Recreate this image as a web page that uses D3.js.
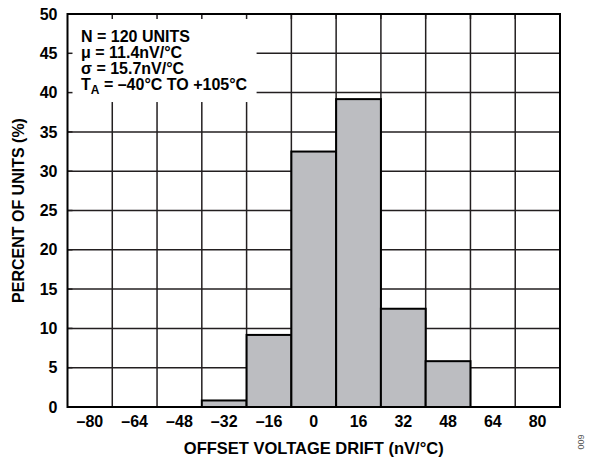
<!DOCTYPE html>
<html lang="en">
<head>
	<meta charset="UTF-8">
	<title>Offset voltage drift histogram</title>
	<script src="https://d3js.org/d3.v7.min.js"></script>
	<style>
		body {
			margin: 0;
			background: #fff;
		}
		svg text {
			font-family: "Liberation Sans", Arial, sans-serif;
			font-weight: bold;
			fill: #000;
		}
		.grid line {
			stroke: #231f20;
			stroke-width: 1.5;
		}
		.bar {
			fill: #bcbdc1;
			stroke: #000;
			stroke-width: 2;
		}
	</style>
</head>
<body>
<script>
	// bins (nV/°C) and percent of units in each
	var bins = ["–80", "–64", "–48", "–32", "–16", "0", "16", "32", "48", "64", "80"];
	var percent = [0, 0, 0, 0.83, 9.17, 32.5, 39.17, 12.5, 5.83, 0, 0];
	var yTicks = [0, 5, 10, 15, 20, 25, 30, 35, 40, 45, 50];
	var notes = ["N = 120 UNITS", "μ = 11.4nV/°C", "σ = 15.7nV/°C"];

	var width = 589,
		height = 457;
	var margin = {top: 14, right: 29, bottom: 50, left: 67.5};

	var svg = d3.select("body").append("svg")
		.attr("width", width)
		.attr("height", height);

	var x = d3.scaleBand()
		.domain(bins)
		.range([margin.left, width - margin.right]);

	var y = d3.scaleLinear()
		.domain([0, 50])
		.range([height - margin.bottom, margin.top]);

	var x0 = x.range()[0], x1 = x.range()[1];
	var yTop = y(50), yBot = y(0);

	// gridlines
	var grid = svg.append("g").attr("class", "grid");
	grid.selectAll(".h")
		.data(yTicks)
		.enter().append("line")
		.attr("x1", x0).attr("x2", x1)
		.attr("y1", function (d) { return y(d); })
		.attr("y2", function (d) { return y(d); });
	grid.selectAll(".v")
		.data(bins.slice(1))
		.enter().append("line")
		.attr("x1", function (d) { return x(d); })
		.attr("x2", function (d) { return x(d); })
		.attr("y1", yTop).attr("y2", yBot);

	// bars
	svg.selectAll(".bar")
		.data(bins.map(function (b, i) { return {bin: b, v: percent[i]}; })
			.filter(function (d) { return d.v > 0; }))
		.enter().append("rect")
		.attr("class", "bar")
		.attr("x", function (d) { return x(d.bin); })
		.attr("width", x.bandwidth())
		.attr("y", function (d) { return y(d.v); })
		.attr("height", function (d) { return yBot - y(d.v); });

	// annotation box covers the grid
	svg.append("rect")
		.attr("x", x0)
		.attr("y", yTop)
		.attr("width", x(bins[4]) + 10 - x0)
		.attr("height", y(38.8) - yTop)
		.style("fill", "#fff");

	// small inward ticks (top and left)
	svg.append("g").selectAll("line")
		.data(bins.slice(1))
		.enter().append("line")
		.attr("x1", function (d) { return x(d); })
		.attr("x2", function (d) { return x(d); })
		.attr("y1", yTop).attr("y2", yTop + 5)
		.style("stroke", "#231f20").style("stroke-width", 1.5);
	svg.append("g").selectAll("line")
		.data(yTicks)
		.enter().append("line")
		.attr("x1", x0).attr("x2", x0 + 5)
		.attr("y1", function (d) { return y(d); })
		.attr("y2", function (d) { return y(d); })
		.style("stroke", "#231f20").style("stroke-width", 1.5);

	// frame
	svg.append("rect")
		.attr("x", x0).attr("y", yTop)
		.attr("width", x1 - x0).attr("height", yBot - yTop)
		.style("fill", "none")
		.style("stroke", "#000")
		.style("stroke-width", 2);

	// axes (labels only)
	var xAxis = svg.append("g")
		.attr("transform", "translate(0," + yBot + ")")
		.call(d3.axisBottom(x).tickSize(0).tickPadding(9));
	xAxis.select(".domain").remove();
	xAxis.selectAll("text").style("font-size", "16px").style("font-family", null);

	var yAxis = svg.append("g")
		.attr("transform", "translate(" + x0 + ",0)")
		.call(d3.axisLeft(y).tickValues(yTicks).tickSize(0).tickPadding(10));
	yAxis.select(".domain").remove();
	yAxis.selectAll("text").style("font-size", "16px").style("font-family", null);

	// notes
	var noteG = svg.append("g").style("font-size", "16px");
	notes.forEach(function (t, i) {
		noteG.append("text")
			.attr("x", 81)
			.attr("y", 42 + i * 16)
			.text(t);
	});
	var ta = noteG.append("text").attr("x", 81).attr("y", 42 + 3 * 16);
	ta.append("tspan").text("T");
	ta.append("tspan").attr("dy", 4).style("font-size", "12px").text("A");
	ta.append("tspan").attr("dy", -4).text(" = –40°C TO +105°C");

	// axis titles
	svg.append("text")
		.attr("x", (x0 + x1) / 2)
		.attr("y", 454)
		.attr("text-anchor", "middle")
		.style("font-size", "16.5px")
		.text("OFFSET VOLTAGE DRIFT (nV/°C)");

	svg.append("text")
		.attr("transform", "translate(24," + ((yTop + yBot) / 2) + ") rotate(-90)")
		.attr("text-anchor", "middle")
		.style("font-size", "16px")
		.text("PERCENT OF UNITS (%)");

	svg.append("text")
		.attr("transform", "translate(584,442) rotate(-90)")
		.attr("text-anchor", "middle")
		.style("font-size", "9px")
		.style("font-weight", "normal")
		.style("fill", "#555")
		.text("009");
</script>
</body>
</html>
